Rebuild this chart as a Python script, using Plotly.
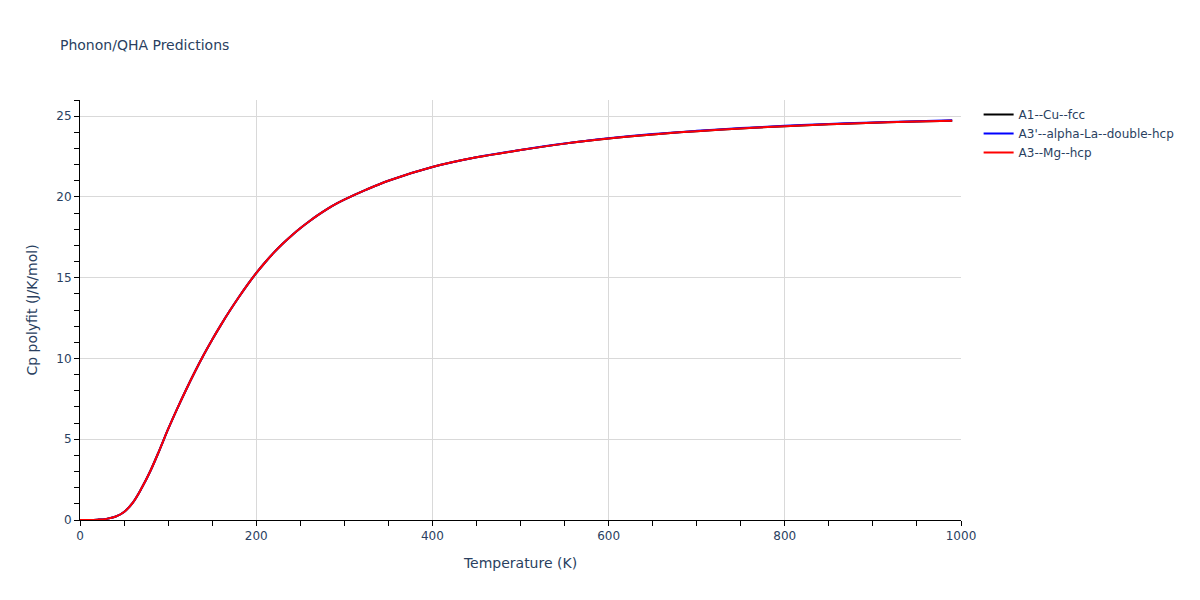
import plotly.graph_objects as go

# temperature grid (K)
temps = [0, 10, 20, 30, 40, 50, 60, 70, 80, 90, 100, 110, 120, 130, 140, 150, 160,
         170, 180, 190, 200, 210, 220, 230, 240, 250, 260, 270, 280, 290, 300, 325,
         350, 400, 450, 500, 550, 600, 650, 700, 750, 800, 850, 900, 950, 990]

# Cp polyfit (J/K/mol)
cp_cu = [0.0, 0.0, 0.02, 0.07, 0.2, 0.5, 1.08, 1.98, 3.05, 4.3, 5.62, 6.85, 8.02, 9.13,
         10.18, 11.16, 12.08, 12.95, 13.77, 14.55, 15.28, 15.94, 16.55, 17.1, 17.6,
         18.06, 18.48, 18.87, 19.23, 19.55, 19.83, 20.45, 21.0, 21.85, 22.45, 22.9,
         23.3, 23.62, 23.87, 24.07, 24.24, 24.38, 24.5, 24.59, 24.67, 24.72]
cp_la = [0.0, 0.0, 0.02, 0.07, 0.2, 0.5, 1.08, 1.98, 3.05, 4.3, 5.62, 6.85, 8.02, 9.13,
         10.18, 11.16, 12.08, 12.95, 13.77, 14.55, 15.28, 15.94, 16.55, 17.1, 17.6,
         18.06, 18.48, 18.87, 19.23, 19.55, 19.83, 20.45, 21.0, 21.85, 22.45, 22.91,
         23.31, 23.63, 23.89, 24.09, 24.26, 24.4, 24.52, 24.61, 24.69, 24.74]
cp_mg = [0.0, 0.0, 0.02, 0.07, 0.2, 0.5, 1.08, 1.98, 3.05, 4.3, 5.62, 6.85, 8.02, 9.13,
         10.18, 11.16, 12.08, 12.95, 13.77, 14.55, 15.28, 15.94, 16.55, 17.1, 17.6,
         18.06, 18.48, 18.87, 19.23, 19.55, 19.83, 20.45, 21.0, 21.85, 22.45, 22.9,
         23.3, 23.62, 23.87, 24.07, 24.24, 24.38, 24.5, 24.59, 24.67, 24.72]

series = [("A1--Cu--fcc", cp_cu, "black"),
          ("A3'--alpha-La--double-hcp", cp_la, "blue"),
          ("A3--Mg--hcp", cp_mg, "red")]

fig = go.Figure()
for name, vals, col in series:
    fig.add_trace(go.Scatter(x=temps, y=vals, mode="lines", name=name,
                             line=dict(color=col, width=2, shape="spline")))

axis_style = dict(showline=True, linecolor="black", linewidth=1, ticks="outside",
                  tickcolor="black", ticklen=5, showgrid=True, gridcolor="#d9d9d9",
                  zeroline=False, minor=dict(ticks="outside", ticklen=5, tickcolor="black"))

fig.update_layout(title=dict(text="Phonon/QHA Predictions", font=dict(size=14),
                             x=0.0439, xanchor="left", y=0.9366, yanchor="middle"),
                  font=dict(family="DejaVu Sans"),
                  width=1184, height=584,
                  margin=dict(l=72, r=227, t=92, b=72),
                  plot_bgcolor="white", paper_bgcolor="white",
                  xaxis=dict(title="Temperature (K)", range=[0, 1000], dtick=200,
                             **axis_style),
                  yaxis=dict(title="Cp polyfit (J/K/mol)", range=[0, 26], dtick=5,
                             **axis_style))
fig.update_xaxes(minor_dtick=50)
fig.update_yaxes(minor_dtick=1)

fig.write_html("out.html")
